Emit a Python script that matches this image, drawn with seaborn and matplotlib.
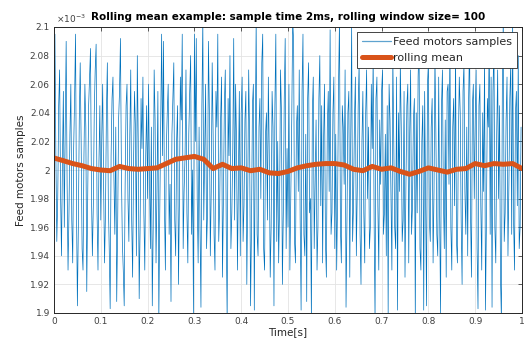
import numpy as np
import pandas as pd
import matplotlib
matplotlib.use("Agg")
import matplotlib.pyplot as plt
import seaborn as sns
from matplotlib.ticker import FuncFormatter, MultipleLocator

# ---- data (sample deviations in units of 1e-6 around the 2e-3 level) ----
sample_time = 0.002
base_level = 2000  # x1e-6
sample_dev = [
    40, 95, 10, -50, -20, 45, 70, -15, -60, 5,
    55, -40, 30, 90, -10, -70, -30, 25, 60, -35,
    -65, 15, 50, 95, -25, -95, -40, 35, 75, 20,
    -55, -70, 10, 60, 30, -85, -20, 45, 65, 85,
    -15, -60, -25, 40, 70, 88, -30, -70, 5, 45,
    -35, 20, 60, -10, -65, -30, 40, 75, -20, -55,
    -97, 10, 50, 65, -5, -45, 30, -92, -40, 35,
    55, 92, 0, -50, -70, -95, -10, 45, 60, -20,
    -50, 25, 70, -35, -75, 5, 55, 30, -60, 80,
    20, -90, -40, 50, 15, 65, -30, -70, 10, 45,
    -20, 60, -5, -55, 30, -95, -40, 70, 35, -65,
    -15, 55, -105, -30, 35, 95, 10, 90, -25, -70,
    15, 40, 60, -45, -10, -92, 25, 50, 75, -35,
    -60, 20, 45, -80, -20, 65, 35, 95, -55, -15,
    10, 70, -30, -65, 25, 55, 80, -45, 0, -100,
    95, 20, 92, -20, -65, 30, -40, -96, 45, 105,
    -35, 15, 60, -55, -30, 90, 40, -60, -15, 75,
    25, -45, -70, 55, 30, 95, -50, -25, 35, 65,
    -75, -20, 45, 70, -40, -105, 50, 10, 80, -55,
    -30, 15, 92, -35, 60, 20, -70, -5, 55, -60,
    40, 65, -50, -25, 35, 55, -80, -15, 70, 20,
    -95, -40, 45, 60, -98, 20, 105, -45, -60, 30,
    50, -20, 75, 95, -55, -70, 25, 40, -35, 65,
    10, -75, -40, 55, 30, -95, 45, 95, -50, 20,
    -65, -25, 70, 40, -80, -30, 50, 92, -55, 15,
    -40, 60, -70, -20, 35, 105, 90, -50, -65, 30,
    45, -15, 70, -35, -98, 55, 95, -45, -60, 25,
    -92, 50, 75, -30, -20, -105, 40, 65, -55, -10,
    35, -70, -40, 50, 80, -25, 45, -65, 20, 60,
    -50, -75, 30, 55, -15, 98, -45, -30, 40, 65,
    -55, 25, -70, -20, 60, 105, -40, -65, 45, 30,
    -10, 70, -96, -35, 40, 55, -75, 20, 100, -50,
    -25, 35, 65, -60, -15, 45, 75, -45, -80, 20,
    55, -30, -65, 40, 70, -20, 30, -55, -40, 60,
    15, 80, -35, -105, 50, 65, -25, -70, 35, -10,
    55, 70, -45, -30, 25, -60, 45, -100, 60, 35,
    -20, -70, 80, 20, -40, -55, 65, -98, 40, -15,
    75, 30, -50, -35, 55, -75, -10, 45, 60, -65,
    25, 70, -45, -25, 35, 50, -105, 40, -30, 65,
    92, -55, -70, 20, 45, -98, 55, -20, -95, 60,
    75, -35, -50, 30, 50, -65, -15, 80, 25, -45,
    -60, 65, -30, -100, 45, 70, -20, -55, 35, -75,
    55, 60, -10, 95, -40, -70, 30, 50, -25, 85,
    -50, -65, 20, 65, 40, -35, -80, 55, 75, -15,
    -45, 30, -60, 50, 92, -30, -75, 45, 60, -20,
    35, 70, -55, -97, 45, 60, -25, -70, 40, -15,
    80, -98, -35, 50, 30, 95, -45, 65, -96, 55,
    90, -40, -65, 25, 70, -20, 45, -75, -105, 60,
    105, -50, -30, 35, 65, -60, -10, 50, 75, -45,
    105, -35, -70, 40, 55, -25, 80, -55, -40, 30,
]
rolling_t = [0.00, 0.02, 0.04, 0.06, 0.08, 0.10, 0.12, 0.14, 0.16, 0.18, 0.20, 0.22, 0.24,
             0.26, 0.28, 0.30, 0.32, 0.34, 0.36, 0.38, 0.40, 0.42, 0.44, 0.46, 0.48, 0.50,
             0.52, 0.54, 0.56, 0.58, 0.60, 0.62, 0.64, 0.66, 0.68, 0.70, 0.72, 0.74, 0.76,
             0.78, 0.80, 0.82, 0.84, 0.86, 0.88, 0.90, 0.92, 0.94, 0.96, 0.98, 1.00]
rolling_val = [2.0084, 2.0065, 2.0045, 2.0030, 2.0010, 2.0000, 1.9995, 2.0025, 2.0010, 2.0005,
               2.0010, 2.0015, 2.0045, 2.0075, 2.0085, 2.0095, 2.0075, 2.0010, 2.0040, 2.0010,
               2.0015, 1.9995, 2.0005, 1.9980, 1.9975, 1.9990, 2.0015, 2.0030, 2.0040, 2.0045,
               2.0045, 2.0035, 2.0005, 1.9995, 2.0025, 2.0005, 2.0015, 1.9990, 1.9970, 1.9990,
               2.0015, 2.0000, 1.9985, 2.0005, 2.0010, 2.0045, 2.0030, 2.0045, 2.0040, 2.0045,
               2.0010]
x_ticks = [0, 0.1, 0.2, 0.3, 0.4, 0.5, 0.6, 0.7, 0.8, 0.9, 1.0]
title = "Rolling mean example: sample time 2ms, rolling window size= 100"

# ---- frames ----
n = len(sample_dev)
df_s = pd.DataFrame({"t": np.arange(n) * sample_time,
                     "v": (np.array(sample_dev) + base_level) * 1e-6})
df_r = pd.DataFrame({"t": rolling_t, "v": np.array(rolling_val) * 1e-3})

sns.set_style("white")
plt.rcParams["font.family"] = ["DejaVu Sans"]

fig = plt.figure(figsize=(5.24, 3.42), dpi=100)
ax = fig.add_axes([54 / 524, 1 - 313 / 342, 468 / 524, 286 / 342])

blue = "#0072BD"
orange = "#D95319"
sns.lineplot(data=df_s, x="t", y="v", ax=ax, color=blue, linewidth=0.5,
             label="Feed motors samples", estimator=None)
sns.lineplot(data=df_r, x="t", y="v", ax=ax, color=orange, linewidth=3.6,
             label="rolling mean", estimator=None)

ax.set_xlim(0, 1)
ax.set_ylim(1.9e-3, 2.1e-3)
ax.set_xticks(x_ticks)
ax.yaxis.set_major_locator(MultipleLocator(0.02e-3))
ax.xaxis.set_major_formatter(FuncFormatter(lambda v, p: "%g" % round(v, 3)))
ax.yaxis.set_major_formatter(FuncFormatter(lambda v, p: "%g" % round(v * 1e3, 3)))

ax.grid(True, color="#e3e3e3", linewidth=0.6)
ax.set_axisbelow(True)
tick_col = "#404040"
ax.tick_params(direction="in", top=True, right=True, length=3, width=0.6,
               labelsize=6.5, colors=tick_col, pad=3)
for s in ax.spines.values():
    s.set_color("#262626")
    s.set_linewidth(0.7)

ax.set_xlabel("Time[s]", fontsize=7.5, color="#262626", labelpad=1)
ax.set_ylabel("Feed motors samples", fontsize=7.5, color="#262626", labelpad=3)
ax.set_title(title, fontsize=7.5, fontweight="bold", color="black", pad=5)
ax.text(0.005, 1.006, r"$\times10^{-3}$", transform=ax.transAxes, fontsize=6.5,
        color=tick_col, ha="left", va="bottom")

leg = ax.legend(loc="upper right", fontsize=8, frameon=True, fancybox=False,
                framealpha=1, edgecolor="#262626", borderaxespad=0.45,
                handlelength=2.6, handletextpad=0.15, borderpad=0.45, labelspacing=0.5)
leg.get_frame().set_linewidth(0.6)
leg.get_lines()[0].set_linewidth(0.9)
leg.get_lines()[0].set_color("#5fa3cf")

fig.savefig("out.png", dpi=100)
